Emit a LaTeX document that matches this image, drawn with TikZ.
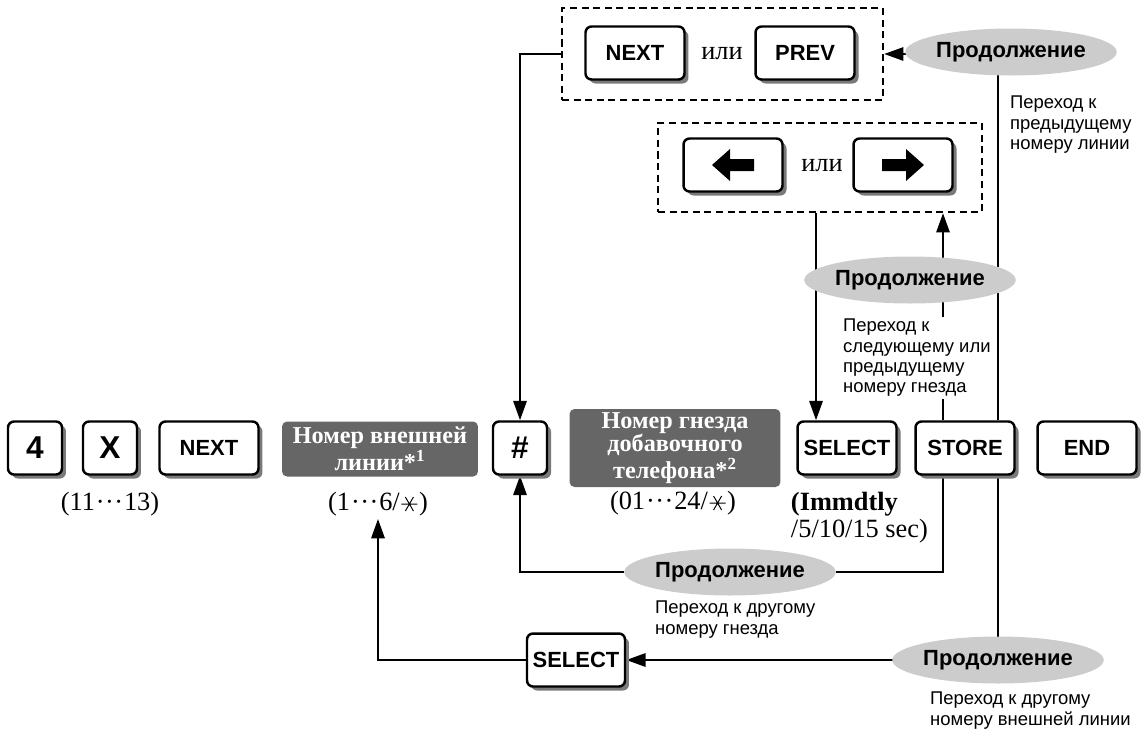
\documentclass[tikz,border=0pt]{standalone}
\usepackage{fontspec}
\setmainfont{Liberation Serif}
\setsansfont{Liberation Sans}
\usetikzlibrary{arrows.meta, positioning, calc, shapes.geometric, shadows, backgrounds}
\definecolor{colField}{HTML}{666666}
\definecolor{colCont}{HTML}{CCCCCC}
\definecolor{colShadow}{HTML}{7A7A7A}

% six-armed star used in the range labels
\newcommand{\sixstar}{\hspace{0.6pt}\tikz[x=1pt, y=1pt, baseline=-3.6pt, line width=0.55pt]{
    \draw (-4.6,0) -- (4.6,0) (60:4.6) -- (240:4.6) (120:4.6) -- (300:4.6);}\hspace{0.6pt}}
\newcommand{\dotsrun}{\kern0.5pt·\kern0.3pt·\kern0.3pt·\kern0.5pt}

\begin{document}
\begin{tikzpicture}[
    x=0.02cm, y=-0.02cm,
    >={Triangle[length=11pt, width=7.5pt]},
    keybox/.style={
        rectangle, rounded corners=0.12cm, draw=black,
        line width=1.4pt, fill=white, minimum height=1.06cm, inner sep=0pt,
        font=\sffamily\bfseries\fontsize{12.5}{13}\selectfont,
        drop shadow={shadow xshift=0.08cm, shadow yshift=-0.08cm,
            fill=colShadow, opacity=1}
    },
    smallkey/.style={keybox, minimum width=1.08cm,
        font=\sffamily\bfseries\fontsize{18}{18}\selectfont},
    widekey/.style={keybox, minimum width=1.98cm},
    fieldbox/.style={
        rectangle, rounded corners=0.1cm, fill=colField, text=white,
        align=center, inner sep=0pt,
        font=\bfseries\fontsize{13.8}{13.4}\selectfont
    },
    contoval/.style={
        ellipse, fill=colCont, minimum width=3.3cm, minimum height=0.94cm,
        inner sep=0pt, font=\sffamily\bfseries\fontsize{12.5}{12.5}\selectfont
    },
    notetext/.style={
        align=left, fill=white, inner sep=1pt,
        font=\sffamily\fontsize{10.5}{11.6}\selectfont
    },
    rangelabel/.style={font=\fontsize{15}{15.3}\selectfont, inner sep=1.5pt},
    orword/.style={font=\fontsize{15}{15}\selectfont, inner sep=0pt},
    choicebox/.style={rectangle, draw=black, line width=1.3pt,
        dash pattern=on 4pt off 2.6pt, inner sep=0pt},
    flow/.style={line width=1.4pt}
]
    \useasboundingbox (0,0) rectangle (1142,731);

    % --- MAIN KEY ROW ---
    \node[smallkey] (k4) at (35,448) {4};
    \node[smallkey] (kX) at (110,448) {X};
    \node[widekey] (kNext) at (209,448) {NEXT};
    \node[fieldbox, minimum width=3.92cm, minimum height=1.1cm] (fLine)
        at (380,449) {Номер внешней\\линии*\textsuperscript{1}};
    \node[smallkey] (kHash) at (520,448) {\#};
    \node[fieldbox, minimum width=4.22cm, minimum height=1.56cm] (fJack)
        at (675,448) {Номер гнезда\\добавочного\\телефона*\textsuperscript{2}};
    \node[widekey] (kSelect) at (847,448) {SELECT};
    \node[widekey] (kStore) at (965,448) {STORE};
    \node[widekey] (kEnd) at (1087,448) {END};

    % --- RANGES UNDER THE ROW ---
    \node[rangelabel] (rX) at (110,504) {(11\dotsrun13)};
    \node[rangelabel] (rLine) at (378,504) {(1\dotsrun6/\sixstar)};
    \node[rangelabel] (rJack) at (673,503) {(01\dotsrun24/\sixstar)};
    \node[rangelabel, align=left, anchor=west] (rTime)
        at (788,518) {\textbf{(Immdtly}\\/5/10/15 sec)};

    % --- NEXT / PREV CHOICE ---
    \node[widekey] (kNext2) at (635,53) {NEXT};
    \node[orword] (or1) at (722,54) {или};
    \node[widekey] (kPrev) at (805,53) {PREV};
    \node[choicebox, minimum width=6.42cm, minimum height=1.84cm] (choice1)
        at (722.5,54) {};

    % --- ARROW KEYS CHOICE ---
    \node[widekey] (kLeft) at (733,165) {};
    \node[orword] (or2) at (822,166) {или};
    \node[widekey] (kRight) at (903,165) {};
    \node[choicebox, minimum width=6.48cm, minimum height=1.78cm] (choice2)
        at (820,167.5) {};
    \fill (kLeft) ++(-21,0) -- ++(18,-16) -- ++(0,10) -- ++(24,0) -- ++(0,12)
        -- ++(-24,0) -- ++(0,10) -- cycle;
    \fill (kRight) ++(21,0) -- ++(-18,-16) -- ++(0,10) -- ++(-24,0) -- ++(0,12)
        -- ++(24,0) -- ++(0,10) -- cycle;

    % --- CONTINUATIONS ---
    \node[contoval] (cont1) at (1011,52) {Продолжение};
    \node[notetext, anchor=north west] (note1) at (1008,94)
        {Переход к\\предыдущему\\номеру линии};
    \node[contoval] (cont2) at (910,280) {Продолжение};
    \node[notetext, anchor=north west] (note2) at (841,317)
        {Переход к\\следующему или\\предыдущему\\номеру гнезда};
    \node[contoval] (cont3) at (730,572) {Продолжение};
    \node[notetext, anchor=north west] (note3) at (653,599)
        {Переход к другому\\номеру гнезда};
    \node[contoval] (cont4) at (998,660) {Продолжение};
    \node[notetext, anchor=north west] (note4) at (928,690)
        {Переход к другому\\номеру внешней линии};
    \node[keybox, minimum width=1.96cm] (kSelect2) at (576,660) {SELECT};

    % --- CONNECTORS (under the ovals and notes) ---
    \coordinate (stUpA) at ($(kStore.north)+(-22,0)$);
    \coordinate (stUpB) at ($(kStore.north)+(33,0)$);
    \coordinate (stDownA) at ($(kStore.south)+(-22,0)$);
    \coordinate (stDownB) at ($(kStore.south)+(33,0)$);
    \coordinate (selIn) at ($(kSelect.north)+(-31,0)$);
    \begin{scope}[on background layer]
        \draw[flow, ->] (stUpA) -- (stUpA |- choice2.south);
        \draw[flow, ->] (selIn |- choice2.south) -- (selIn);
        \draw[flow, ->] (stUpB) |- (choice1.east);
        \draw[flow, ->] (choice1.west) -| (kHash.north);
        \draw[flow, ->] (stDownA) |- (cont3) -| (kHash.south);
        \draw[flow, ->] (stDownB) |- (kSelect2.east);
        \draw[flow, ->] (kSelect2.west) -| (rLine.south);
    \end{scope}

\end{tikzpicture}
\end{document}
